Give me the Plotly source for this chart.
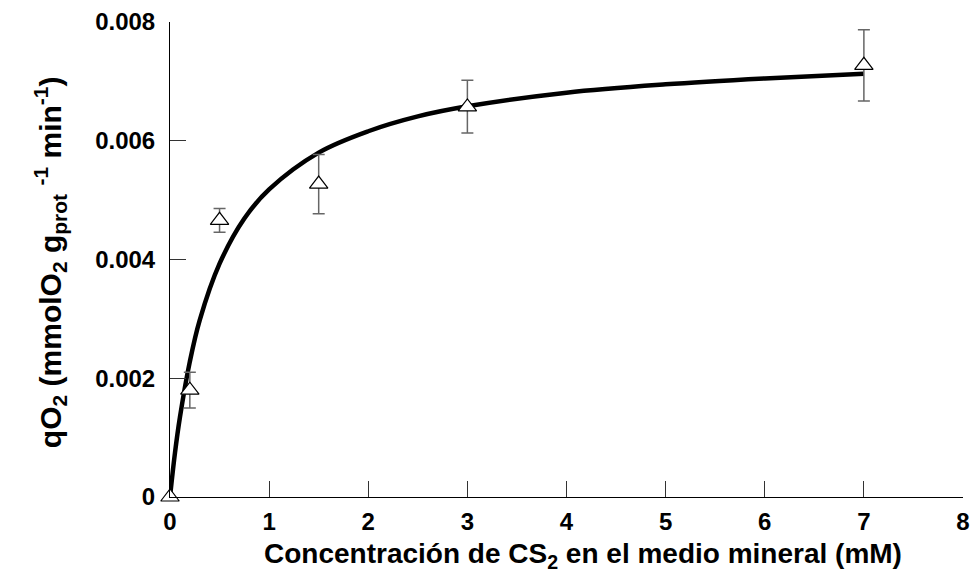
import plotly.graph_objects as go

# Measured data (mean ± error)
conc = [0, 0.2, 0.5, 1.5, 3, 7]
qo2 = [0.0, 0.0018, 0.00466, 0.00527, 0.00657, 0.00727]
err_up = [0.0, 0.0003, 0.0002, 0.0005, 0.00045, 0.0006]
err_down = [0.0, 0.0003, 0.0002, 0.0005, 0.00044, 0.0006]

# Fitted curve, values
fit_x = [0, 0.05, 0.1, 0.2, 0.3, 0.5, 0.75, 1, 1.5, 2, 2.5, 3, 4, 5, 6, 7]
fit_y = [0.0, 0.00074, 0.00134, 0.00228, 0.00298, 0.00393, 0.00469, 0.00518,
         0.0058, 0.00616, 0.00641, 0.00658, 0.00681, 0.00695, 0.00705, 0.00713]

x_ticks = [0, 1, 2, 3, 4, 5, 6, 7, 8]
y_ticks = [0, 0.002, 0.004, 0.006, 0.008]
y_ticklabels = ["0", "0.002", "0.004", "0.006", "0.008"]

x_title = "<b>Concentración de CS<sub>2</sub> en el medio mineral (mM)</b>"
y_title = "<b>qO<sub>2</sub> (mmolO<sub>2</sub> g<sub>prot</sub> <sup>-1</sup> min<sup>-1</sup>)</b>"

FONT = "Liberation Sans, Arial, sans-serif"

fig = go.Figure()
fig.add_trace(go.Scatter(
    x=fit_x, y=fit_y, mode="lines", line=dict(color="black", width=4.5, shape="spline"),
    hoverinfo="skip", showlegend=False, cliponaxis=False))
fig.add_trace(go.Scatter(
    x=conc, y=qo2, mode="markers",
    marker=dict(symbol="triangle-up", size=16, color="white", line=dict(color="black", width=1.2)),
    error_y=dict(type="data", symmetric=False, array=err_up, arrayminus=err_down,
                 color="#666666", thickness=1.5, width=6),
    showlegend=False, cliponaxis=False))

axis_common = dict(ticks="inside", ticklen=16, tickcolor="#333", tickwidth=1,
                   showline=True, linecolor="black", linewidth=1,
                   showgrid=False, zeroline=False, automargin=False,
                   ticklabeloverflow="allow",
                   tickfont=dict(size=24, family=FONT, weight="bold"))

fig.update_layout(
    width=973, height=579,
    margin=dict(l=170, r=10, t=22, b=82),
    plot_bgcolor="white", paper_bgcolor="white",
    font=dict(family=FONT, color="black", size=24),
    xaxis=dict(range=[0, 8], tickvals=x_ticks, ticktext=[str(v) for v in x_ticks],
               ticklabelstandoff=3, **axis_common),
    yaxis=dict(range=[0, 0.008], tickvals=y_ticks, ticktext=y_ticklabels,
               ticklabelstandoff=9, **axis_common),
    annotations=[
        dict(text=x_title, xref="paper", yref="paper", x=0.521, y=-0.124,
             xanchor="center", yanchor="middle", showarrow=False,
             font=dict(size=28, family=FONT, color="black")),
        dict(text=y_title, xref="paper", yref="paper", x=-0.151, y=0.495,
             xanchor="center", yanchor="middle", showarrow=False, textangle=-90,
             font=dict(size=30, family=FONT, color="black")),
    ],
)

fig.write_html(
    "out.html",
    config={"displayModeBar": False},
    post_script="document.body.style.margin='0';document.body.style.overflow='hidden';",
)
